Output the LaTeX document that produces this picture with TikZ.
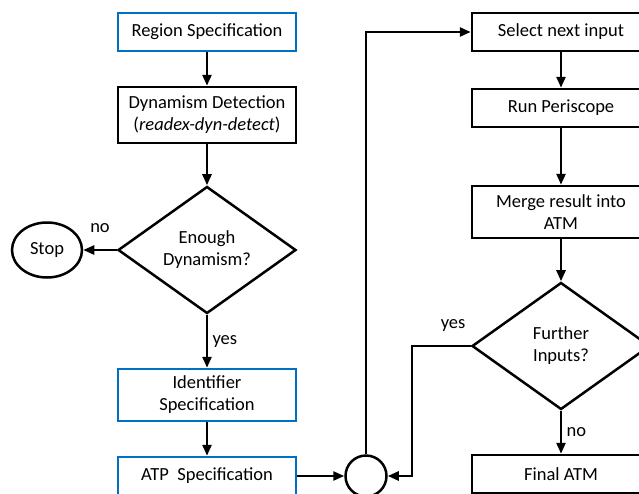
\documentclass[tikz,border=0pt]{standalone}
\usepackage{fontspec}
\setmainfont{Carlito}
\usetikzlibrary{shapes.geometric,arrows.meta}

\definecolor{specblue}{RGB}{0,112,192}

\tikzset{
  flow/.style={line width=2.5pt, -{Triangle[length=11pt,width=9pt]}},
  stepbox/.style={draw, line width=2.5pt, minimum width=178pt, minimum height=38pt,
    align=center, inner sep=2pt},
  specbox/.style={stepbox, draw=specblue},
  decision/.style={draw, diamond, line width=2.5pt, align=center, inner sep=0pt,
    aspect=1.4, minimum width=178pt, minimum height=127pt},
}

\begin{document}
\begin{tikzpicture}[x=1pt,y=-1pt,font=\fontsize{18.5}{22}\selectfont]
  \useasboundingbox (0,0) rectangle (639,493);
  \clip (0,0) rectangle (639,493);

  % left column
  \node[name=region, specbox] at (207,32) {Region Specification};
  \node[name=detect, stepbox, minimum height=56pt] at (207,115)
    {Dynamism Detection\\(\textit{readex-dyn-detect})};
  \node[name=enough, decision] at (207,250) {Enough\\Dynamism?};
  \node[name=stop, draw, ellipse, line width=2.5pt, minimum width=70pt,
    minimum height=55pt, inner sep=0pt] at (47,250) {Stop};
  \node[name=ident, specbox, minimum height=52pt] at (207,395)
    {Identifier\\Specification};
  \node[name=atp, specbox] at (207,476) {ATP\ \ Specification};

  % joining point of the loop
  \node[name=join, draw, circle, line width=2.5pt, minimum size=41pt, inner sep=0pt]
    at (366,476) {};

  % right column
  \node[name=select, stepbox] at (561,32) {Select next input};
  \node[name=peri, stepbox] at (561,108) {Run Periscope};
  \node[name=merge, stepbox, minimum height=52pt] at (561,212)
    {Merge result into\\ATM};
  \node[name=further, decision] at (561,346) {Further\\Inputs?};
  \node[name=final, stepbox] at (561,474) {Final ATM};

  \draw[flow] (region) -- (detect);
  \draw[flow] (detect) -- (enough);
  \draw[flow] (enough.west) -- node[above=13pt] {no} (stop.east);
  \draw[flow] (enough.south) -- node[right=1pt] {yes} (ident.north);
  \draw[flow] (ident) -- (atp);
  \draw[flow] (atp.east) -- (join.west);

  \draw[flow] (join.north) |- (select.west);
  \draw[flow] (select) -- (peri);
  \draw[flow] (peri) -- (merge);
  \draw[flow] (merge) -- (further);
  \draw[flow] (further.west) -- node[pos=0.3, above=10pt] {yes} ++(-59,0) |- (join.east);
  \draw[flow] (further.south) -- node[right=1pt] {no} (final.north);
\end{tikzpicture}
\end{document}
